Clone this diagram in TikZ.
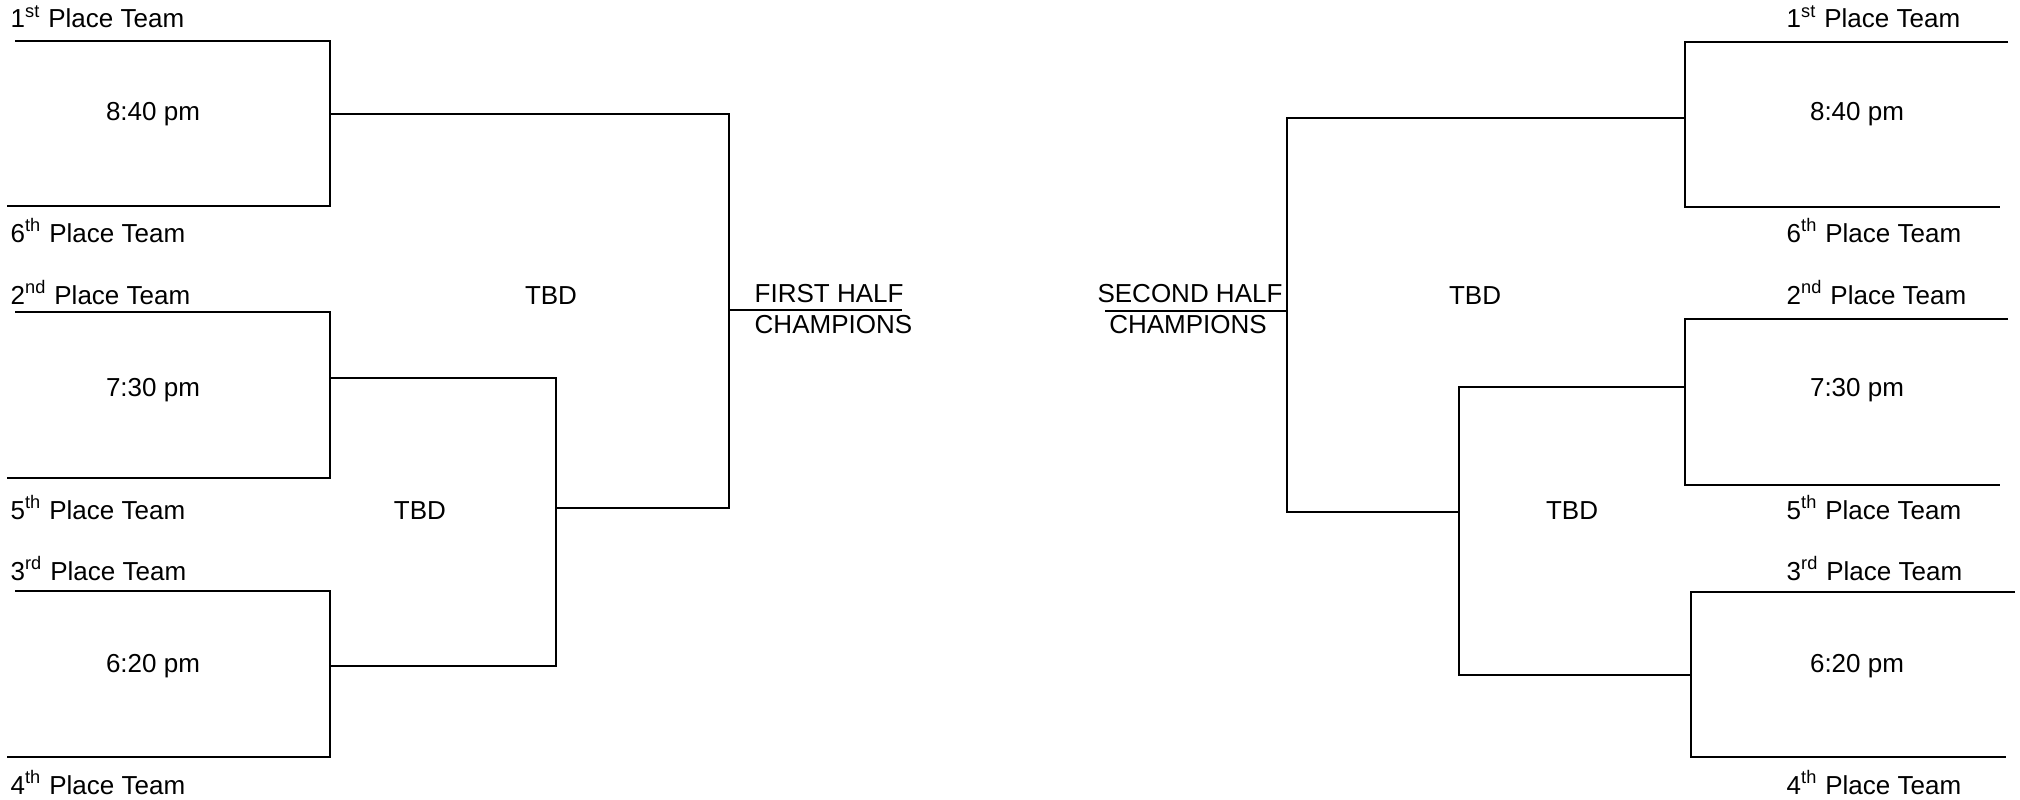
\documentclass[tikz,border=0pt]{standalone}
\usepackage{fontspec}
\setmainfont{Liberation Sans}
\usepackage{tikz}

\tikzset{
  bline/.style={line width=0.6pt, black},
  team/.style={anchor=base west, inner sep=0pt},
  slot/.style={anchor=base, inner sep=0pt},
}

\begin{document}
\begin{tikzpicture}[x=0.1mm, y=-0.1mm, font=\fontsize{7.4}{8.9}\selectfont]
  \useasboundingbox (0,0) rectangle (2020,799);
  % first half
  \coordinate (lA) at (330,114); \coordinate (lB) at (330,378); \coordinate (lC) at (330,666);
  \coordinate (lS) at (556,508); \coordinate (lF) at (729,310); \coordinate (lU) at (902,310);
  \draw[bline] (15,41) -| (lA) |- (7,206);
  \draw[bline] (15,312) -| (lB) |- (7,478);
  \draw[bline] (15,591) -| (lC) |- (7,757);
  \draw[bline] (lB) -| (lS) |- (lC);
  \draw[bline] (lA) -| (lF) |- (lS);
  \draw[bline] (lF) -- (lU);
  \node[team] (l1) at (10,28) {1\textsuperscript{st} Place Team};
  \node[team] (l6) at (10,242) {6\textsuperscript{th} Place Team};
  \node[team] (l2) at (10,304) {2\textsuperscript{nd} Place Team};
  \node[team] (l5) at (10,519) {5\textsuperscript{th} Place Team};
  \node[team] (l3) at (10,580) {3\textsuperscript{rd} Place Team};
  \node[team] (l4) at (10,794) {4\textsuperscript{th} Place Team};
  \node[slot] (ltA) at (153,121) {8:40 pm};
  \node[slot] (ltB) at (153,396) {7:30 pm};
  \node[slot] (ltC) at (153,672) {6:20 pm};
  \node[slot] (ltbd1) at (551,304) {TBD};
  \node[slot] (ltbd2) at (420,519) {TBD};
  \node[team] (lhalf) at (754,302) {FIRST HALF};
  \node[team] (lchamp) at (754,333) {CHAMPIONS};
  % second half
  \coordinate (rA) at (1685,118); \coordinate (rB) at (1685,387); \coordinate (rC) at (1691,675);
  \coordinate (rS) at (1459,512); \coordinate (rF) at (1287,311); \coordinate (rU) at (1105,311);
  \draw[bline] (2008,42) -| (rA) |- (2000,207);
  \draw[bline] (2008,319) -| (rB) |- (2000,485);
  \draw[bline] (2015,592) -| (rC) |- (2006,757);
  \draw[bline] (rB) -| (rS) |- (rC);
  \draw[bline] (rA) -| (rF) |- (rS);
  \draw[bline] (rF) -- (rU);
  \node[team] (r1) at (1786,28) {1\textsuperscript{st} Place Team};
  \node[team] (r6) at (1786,242) {6\textsuperscript{th} Place Team};
  \node[team] (r2) at (1786,304) {2\textsuperscript{nd} Place Team};
  \node[team] (r5) at (1786,519) {5\textsuperscript{th} Place Team};
  \node[team] (r3) at (1786,580) {3\textsuperscript{rd} Place Team};
  \node[team] (r4) at (1786,794) {4\textsuperscript{th} Place Team};
  \node[slot] (rtA) at (1857,121) {8:40 pm};
  \node[slot] (rtB) at (1857,396) {7:30 pm};
  \node[slot] (rtC) at (1857,672) {6:20 pm};
  \node[slot] (rtbd1) at (1475,304) {TBD};
  \node[slot] (rtbd2) at (1572,519) {TBD};
  \node[slot] (rhalf) at (1190,302) {SECOND HALF};
  \node[slot] (rchamp) at (1188,333) {CHAMPIONS};
\end{tikzpicture}
\end{document}
